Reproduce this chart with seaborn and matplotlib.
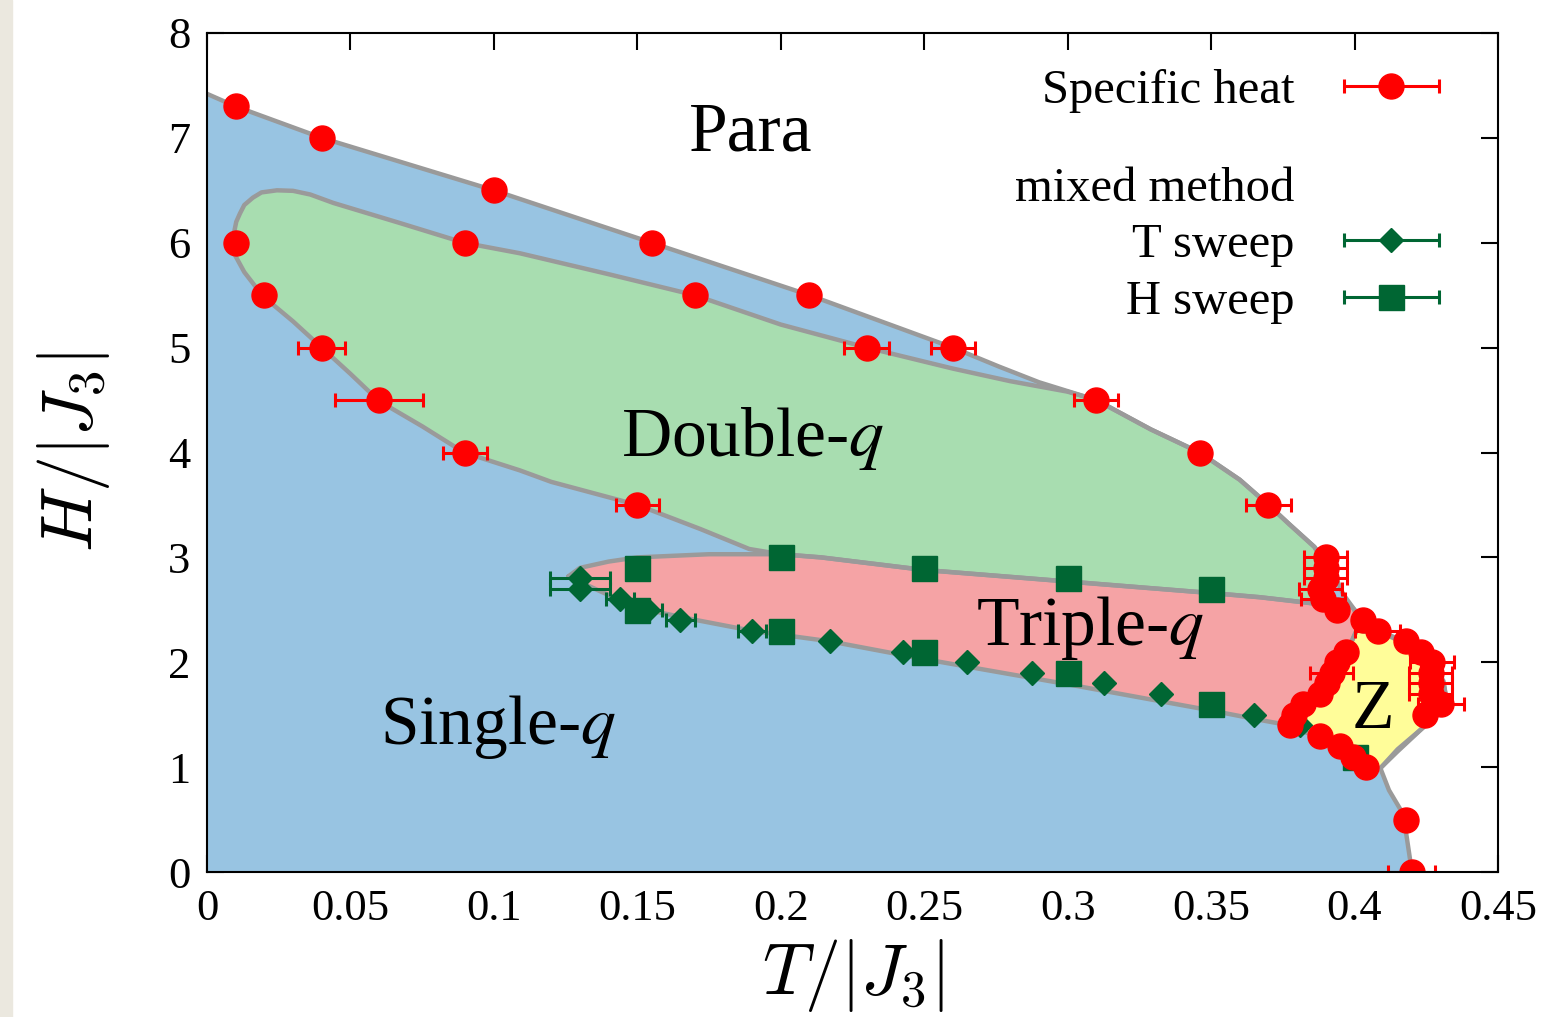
import numpy as np
import matplotlib
matplotlib.use("Agg")
import matplotlib.pyplot as plt
import seaborn as sns
from matplotlib.container import ErrorbarContainer
from matplotlib.legend_handler import HandlerErrorbar
from matplotlib.patches import Rectangle

# ---- phase boundaries (T/|J3|, H/|J3|) ----
outer_T = [0.0, 0.01, 0.04, 0.07, 0.10, 0.155, 0.21, 0.26, 0.276, 0.29, 0.31, 0.329, 0.346,
           0.36, 0.37, 0.3775, 0.386, 0.392, 0.396, 0.400, 0.402, 0.412, 0.420, 0.427, 0.431,
           0.432, 0.429, 0.424, 0.415, 0.409, 0.412, 0.417, 0.420]
outer_H = [7.42, 7.30, 7.00, 6.75, 6.50, 6.00, 5.50, 5.00, 4.82, 4.67, 4.50, 4.22, 4.00,
           3.74, 3.50, 3.31, 3.10, 2.90, 2.65, 2.50, 2.30, 2.25, 2.15, 2.00, 1.80,
           1.65, 1.50, 1.38, 1.15, 0.99, 0.78, 0.55, 0.0]

double_T = [0.0093, 0.0096, 0.0102, 0.0115, 0.013, 0.016, 0.019, 0.0244, 0.030, 0.036, 0.044,
            0.067, 0.0896, 0.109, 0.14, 0.17, 0.20, 0.23,
            0.26, 0.28, 0.30, 0.31, 0.329, 0.346, 0.36, 0.37, 0.3775, 0.386, 0.390, 0.390, 0.386,
            0.367, 0.35, 0.30, 0.25, 0.214, 0.20, 0.189, 0.172, 0.15, 0.12, 0.109, 0.0896,
            0.075, 0.06, 0.05, 0.04, 0.03, 0.0195, 0.013, 0.0098]
double_H = [6.02, 6.12, 6.20, 6.28, 6.36, 6.43, 6.48, 6.50, 6.495, 6.46, 6.38,
            6.19, 6.00, 5.90, 5.70, 5.50, 5.22, 5.00,
            4.80, 4.68, 4.58, 4.50, 4.22, 4.00, 3.74, 3.50, 3.31, 3.10, 2.90, 2.70, 2.56,
            2.62, 2.66, 2.77, 2.88, 3.00, 3.03, 3.08, 3.27, 3.50, 3.72, 3.83, 4.00,
            4.25, 4.49, 4.75, 5.00, 5.25, 5.49, 5.72, 5.88]

triple_T = [0.126, 0.130, 0.14, 0.15, 0.175, 0.20, 0.214, 0.25, 0.30, 0.35, 0.367, 0.386,
            0.396, 0.400, 0.401, 0.399, 0.396, 0.392, 0.387, 0.382, 0.378, 0.377, 0.367,
            0.35, 0.30, 0.25, 0.217, 0.19, 0.171, 0.155, 0.145, 0.136]
triple_H = [2.82, 2.90, 2.96, 3.00, 3.03, 3.03, 3.00, 2.88, 2.77, 2.66, 2.62, 2.56,
            2.60, 2.50, 2.32, 2.20, 2.05, 1.88, 1.72, 1.60, 1.48, 1.40, 1.45,
            1.54, 1.79, 2.03, 2.20, 2.30, 2.40, 2.49, 2.58, 2.69]

z_T = [0.401, 0.412, 0.420, 0.427, 0.431, 0.432, 0.429, 0.424, 0.415, 0.409, 0.404, 0.3995,
       0.395, 0.388, 0.378, 0.377, 0.378, 0.382, 0.387, 0.392, 0.396, 0.399]
z_H = [2.32, 2.26, 2.17, 2.02, 1.82, 1.65, 1.50, 1.38, 1.17, 0.99, 1.00, 1.10,
       1.19, 1.29, 1.37, 1.40, 1.48, 1.60, 1.72, 1.88, 2.05, 2.20]

# ---- specific heat transition points ----
sh_T = [0.01, 0.04, 0.10, 0.155, 0.21, 0.26, 0.31, 0.346, 0.37,
        0.01, 0.09, 0.17, 0.23, 0.02, 0.04, 0.06, 0.09, 0.15,
        0.39, 0.39, 0.39, 0.388, 0.389, 0.394, 0.403, 0.408, 0.418, 0.423,
        0.427, 0.4265, 0.4265, 0.4265, 0.43, 0.4245,
        0.397, 0.394, 0.392, 0.3905, 0.388, 0.382, 0.379, 0.3775,
        0.388, 0.395, 0.3995, 0.404, 0.418, 0.42]
sh_H = [7.3, 7.0, 6.5, 6.0, 5.5, 5.0, 4.5, 4.0, 3.5,
        6.0, 6.0, 5.5, 5.0, 5.5, 5.0, 4.5, 4.0, 3.5,
        3.0, 2.9, 2.8, 2.7, 2.6, 2.5, 2.4, 2.3, 2.2, 2.1,
        2.0, 1.9, 1.8, 1.7, 1.6, 1.5,
        2.1, 2.0, 1.9, 1.8, 1.7, 1.6, 1.5, 1.4,
        1.3, 1.2, 1.1, 1.0, 0.5, 0.0]
sh_err = [0, 0, 0, 0, 0, 0.0077, 0.0077, 0, 0.0078,
          0, 0, 0, 0.0078, 0, 0.0082, 0.0153, 0.0077, 0.0075,
          0.0075, 0.0075, 0.0075, 0.0075, 0.0075, 0, 0, 0.0077, 0, 0,
          0.0075, 0.0075, 0.0075, 0.0075, 0.008, 0,
          0, 0, 0.0075, 0, 0, 0, 0, 0,
          0, 0, 0, 0, 0, 0.0082]

# ---- mixed method: T sweep ----
ts_T = [0.13, 0.13, 0.144, 0.1537, 0.165, 0.19, 0.217, 0.2426, 0.265, 0.2876, 0.3127, 0.3325, 0.365, 0.381]
ts_H = [2.8, 2.7, 2.6, 2.5, 2.4, 2.3, 2.2, 2.1, 2.0, 1.9, 1.8, 1.7, 1.5, 1.4]
ts_err = [0.0105, 0.0105, 0.005, 0.005, 0.005, 0.005, 0, 0, 0, 0, 0, 0, 0, 0]

# ---- mixed method: H sweep ----
hs_T = [0.15, 0.15, 0.20, 0.20, 0.25, 0.25, 0.30, 0.30, 0.35, 0.35, 0.40]
hs_H = [2.9, 2.5, 3.0, 2.3, 2.9, 2.1, 2.8, 1.9, 2.7, 1.6, 1.1]
hs_err = [0] * len(hs_T)

sns.set_theme(style="ticks")
plt.rcParams["font.family"] = ["Liberation Serif", "DejaVu Serif"]
plt.rcParams["mathtext.fontset"] = "stix"
plt.rcParams["text.color"] = "black"
plt.rcParams["axes.labelcolor"] = "black"

fig = plt.figure(figsize=(15.61, 10.17), dpi=100)
fig.patches.append(Rectangle((0, 0), 12 / 1561, 1, transform=fig.transFigure,
                             color="#ebe8df", zorder=0))
ax = fig.add_axes([207 / 1561, 145 / 1017, 1291 / 1561, 839 / 1017])

blue, green, pink, yellow = "#98c4e2", "#a8ddb0", "#f5a3a5", "#fffd99"
edge = "#9a9a9a"
red, dkgreen = "#ff0000", "#006633"

ax.fill(outer_T + [0.0], outer_H + [0.0], color=blue, lw=0, zorder=1)
ax.fill(double_T, double_H, color=green, lw=0, zorder=1.1)
ax.fill(triple_T, triple_H, color=pink, lw=0, zorder=1.2)
ax.fill(z_T, z_H, color=yellow, lw=0, zorder=1.3)

sns.lineplot(x=outer_T, y=outer_H, sort=False, estimator=None, color=edge, lw=3.2, ax=ax, zorder=2)
for bx, by in [(double_T, double_H), (triple_T, triple_H), (z_T, z_H)]:
    sns.lineplot(x=bx + bx[:1], y=by + by[:1], sort=False, estimator=None,
                 color=edge, lw=3.2, ax=ax, zorder=2)

eb_kw = dict(linestyle="none", elinewidth=2.2, capsize=4.7, capthick=2.2)
ts = ax.errorbar(ts_T, ts_H, xerr=ts_err, fmt="D", ms=12, color=dkgreen, zorder=3, **eb_kw)
hs = ax.errorbar(hs_T, hs_H, xerr=hs_err, fmt="s", ms=18, color=dkgreen, zorder=3.2, **eb_kw)
sh = ax.errorbar(sh_T, sh_H, xerr=sh_err, fmt="o", ms=18, color=red, zorder=4, **eb_kw)

ax.set_xlim(0, 0.45)
ax.set_ylim(0, 8)
ax.set_xticks(np.arange(0, 0.451, 0.05))
ax.set_xticklabels(["0", "0.05", "0.1", "0.15", "0.2", "0.25", "0.3", "0.35", "0.4", "0.45"])
ax.set_yticks(range(0, 9))
ax.tick_params(direction="in", length=12, width=1.5, labelsize=32,
               top=True, right=True, pad=12, colors="black")
for s in ax.spines.values():
    s.set_linewidth(1.5)
    s.set_color("black")
    s.set_zorder(5)

ax.set_xlabel(r"$T/|J_3|$", fontsize=52, labelpad=6, math_fontfamily="cm")
ax.set_ylabel(r"$H/|J_3|$", fontsize=52, labelpad=40, math_fontfamily="cm")

lab_kw = dict(ha="center", va="center", fontsize=50, zorder=6)
ax.text(0.1896, 7.04, "Para", **lab_kw)
ax.text(0.1903, 4.13, "Double-$q$", **lab_kw)
ax.text(0.3078, 2.33, "Triple-$q$", **lab_kw)
ax.text(0.1014, 1.38, "Single-$q$", **lab_kw)
ax.text(0.4064, 1.53, "Z", **lab_kw)

hmap = {ErrorbarContainer: HandlerErrorbar(xerr_size=0.98)}
leg1 = ax.legend([sh], ["Specific heat"], loc="center right", bbox_to_anchor=(0.955, 0.931),
                 frameon=False, markerfirst=False, fontsize=35, handlelength=2.0,
                 handletextpad=1.0, borderpad=0, borderaxespad=0, handler_map=hmap)
ax.add_artist(leg1)
blank = plt.Line2D([], [], linestyle="none")
ax.legend([blank, ts, hs], ["mixed method", "T sweep", "H sweep"], loc="upper right",
          bbox_to_anchor=(0.955, 0.84), frameon=False, markerfirst=False, fontsize=35,
          handlelength=2.0, handletextpad=1.0, borderpad=0, borderaxespad=0,
          labelspacing=0.25, handler_map=hmap)

fig.savefig("out.png", dpi=100)
